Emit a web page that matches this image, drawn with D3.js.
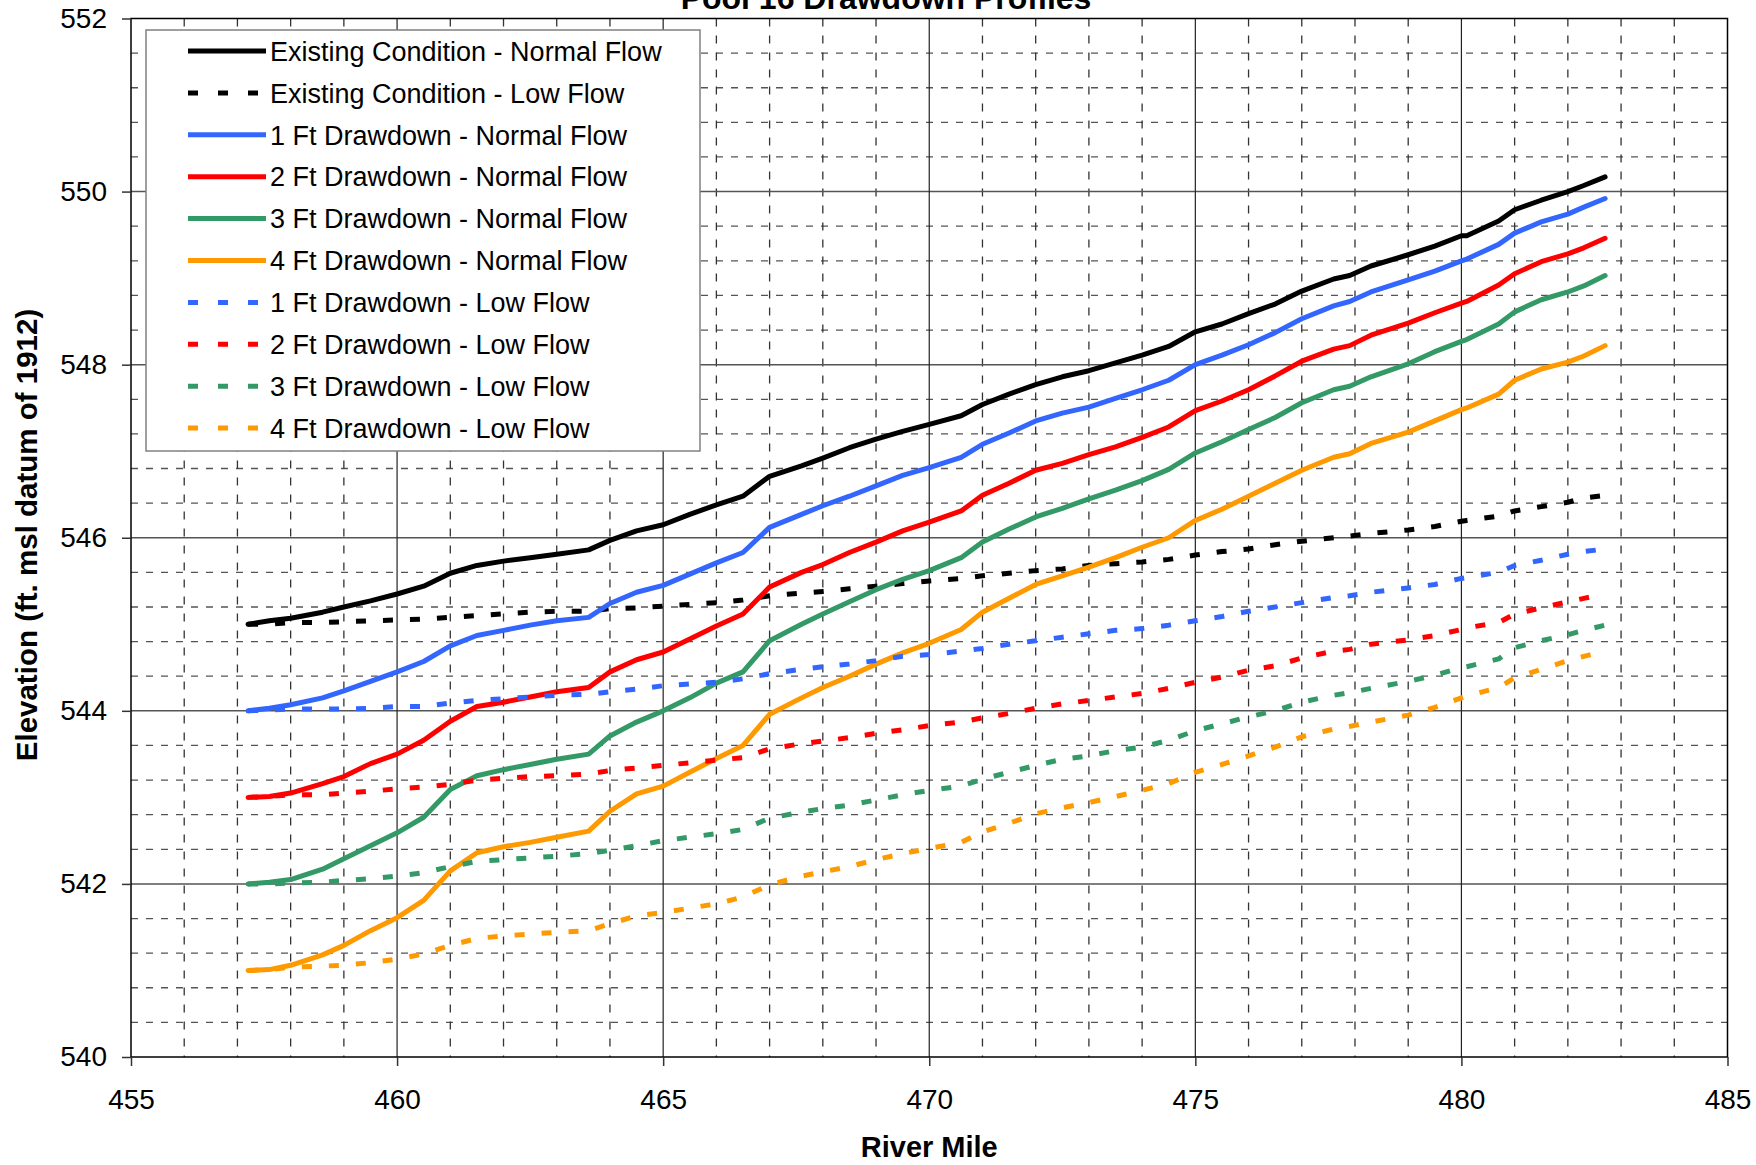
<!DOCTYPE html>
<html lang="en">
<head>
<meta charset="UTF-8">
<title>Pool 16 Drawdown Profiles</title>
<style>
    body {
        margin: 0;
        background: #fff;
    }
    svg {
        display: block;
        font-family: Arial, "Liberation Sans", sans-serif;
    }
</style>
</head>
<body>

<svg width="1756" height="1165"></svg>

<script src="https://d3js.org/d3.v7.min.js"></script>
<script>
    // river miles of the profile points
    const riverMile = [457.2, 457.6, 458.0, 458.6, 459.0, 459.5, 460.0, 460.5, 461.0, 461.5,
        462.0, 462.5, 463.0, 463.6, 464.0, 464.5, 465.0, 465.5, 466.0, 466.5,
        467.0, 467.6, 468.0, 468.5, 469.0, 469.5, 470.0, 470.6, 471.0, 471.5,
        472.0, 472.5, 473.0, 473.5, 474.0, 474.5, 475.0, 475.5, 476.0, 476.5,
        477.0, 477.6, 477.9, 478.3, 479.0, 479.5, 480.0, 480.1, 480.7, 481.0,
        481.5, 482.0, 482.3, 482.7];

    const existNormal = [545.00, 545.04, 545.07, 545.14, 545.20, 545.27, 545.35, 545.44, 545.59, 545.68,
        545.73, 545.77, 545.81, 545.86, 545.97, 546.08, 546.15, 546.27, 546.38, 546.48,
        546.71, 546.83, 546.92, 547.04, 547.14, 547.23, 547.31, 547.41, 547.54, 547.66,
        547.77, 547.86, 547.93, 548.02, 548.11, 548.21, 548.38, 548.47, 548.59, 548.70,
        548.85, 548.99, 549.03, 549.14, 549.27, 549.37, 549.49, 549.49, 549.66, 549.79,
        549.90, 550.00, 550.07, 550.17];

    const existLow = [545.00, 545.00, 545.02, 545.02, 545.03, 545.04, 545.05, 545.06, 545.08, 545.10,
        545.12, 545.14, 545.15, 545.15, 545.18, 545.19, 545.21, 545.23, 545.25, 545.28,
        545.33, 545.36, 545.38, 545.41, 545.44, 545.47, 545.50, 545.53, 545.56, 545.59,
        545.62, 545.64, 545.68, 545.70, 545.72, 545.75, 545.80, 545.84, 545.87, 545.92,
        545.96, 546.00, 546.02, 546.05, 546.09, 546.13, 546.19, 546.20, 546.25, 546.31,
        546.36, 546.41, 546.46, 546.49];

    const dd1Normal = [544.00, 544.03, 544.07, 544.15, 544.23, 544.34, 544.45, 544.57, 544.75, 544.87,
        544.93, 544.99, 545.04, 545.08, 545.24, 545.37, 545.45, 545.58, 545.71, 545.83,
        546.12, 546.27, 546.37, 546.48, 546.60, 546.72, 546.81, 546.93, 547.08, 547.21,
        547.35, 547.44, 547.51, 547.61, 547.71, 547.82, 548.00, 548.11, 548.23, 548.37,
        548.53, 548.68, 548.73, 548.84, 548.98, 549.08, 549.20, 549.22, 549.39, 549.52,
        549.65, 549.74, 549.82, 549.92];

    const dd2Normal = [543.00, 543.01, 543.05, 543.16, 543.24, 543.39, 543.50, 543.66, 543.88, 544.05,
        544.10, 544.16, 544.22, 544.27, 544.45, 544.59, 544.68, 544.83, 544.98, 545.12,
        545.43, 545.60, 545.69, 545.83, 545.95, 546.08, 546.18, 546.31, 546.49, 546.63,
        546.78, 546.86, 546.96, 547.05, 547.16, 547.28, 547.47, 547.58, 547.71, 547.87,
        548.04, 548.18, 548.22, 548.34, 548.48, 548.60, 548.71, 548.73, 548.92, 549.05,
        549.19, 549.28, 549.35, 549.46];

    const dd3Normal = [542.00, 542.02, 542.05, 542.17, 542.29, 542.44, 542.59, 542.77, 543.09, 543.25,
        543.32, 543.38, 543.44, 543.50, 543.71, 543.87, 544.00, 544.15, 544.32, 544.45,
        544.81, 545.00, 545.12, 545.26, 545.40, 545.52, 545.62, 545.77, 545.95, 546.10,
        546.24, 546.34, 546.45, 546.55, 546.66, 546.79, 546.98, 547.11, 547.25, 547.39,
        547.56, 547.71, 547.75, 547.86, 548.01, 548.15, 548.27, 548.29, 548.47, 548.61,
        548.75, 548.84, 548.91, 549.03];

    const dd4Normal = [541.00, 541.01, 541.06, 541.18, 541.29, 541.46, 541.61, 541.81, 542.15, 542.36,
        542.43, 542.48, 542.54, 542.61, 542.84, 543.04, 543.13, 543.29, 543.45, 543.60,
        543.96, 544.15, 544.27, 544.40, 544.54, 544.67, 544.78, 544.94, 545.14, 545.30,
        545.46, 545.56, 545.66, 545.77, 545.89, 546.00, 546.20, 546.33, 546.48, 546.63,
        546.78, 546.93, 546.97, 547.09, 547.22, 547.35, 547.48, 547.50, 547.66, 547.82,
        547.95, 548.03, 548.10, 548.22];

    const dd1Low = [544.00, 544.01, 544.02, 544.02, 544.02, 544.03, 544.05, 544.05, 544.09, 544.12,
        544.14, 544.16, 544.18, 544.19, 544.22, 544.25, 544.29, 544.31, 544.33, 544.37,
        544.43, 544.48, 544.51, 544.54, 544.58, 544.63, 544.65, 544.69, 544.72, 544.77,
        544.81, 544.85, 544.89, 544.93, 544.95, 544.99, 545.04, 545.09, 545.15, 545.20,
        545.25, 545.31, 545.33, 545.37, 545.42, 545.46, 545.53, 545.54, 545.60, 545.68,
        545.74, 545.81, 545.84, 545.87];

    const dd2Low = [543.00, 543.01, 543.03, 543.03, 543.05, 543.07, 543.10, 543.12, 543.15, 543.20,
        543.22, 543.24, 543.25, 543.27, 543.31, 543.34, 543.37, 543.40, 543.43, 543.46,
        543.56, 543.62, 543.65, 543.69, 543.74, 543.78, 543.83, 543.87, 543.92, 543.97,
        544.03, 544.08, 544.12, 544.16, 544.20, 544.26, 544.33, 544.39, 544.47, 544.52,
        544.61, 544.69, 544.71, 544.77, 544.82, 544.87, 544.94, 544.96, 545.02, 545.12,
        545.19, 545.26, 545.30, 545.35];

    const dd3Low = [542.00, 542.00, 542.01, 542.02, 542.04, 542.06, 542.09, 542.13, 542.20, 542.26,
        542.28, 542.30, 542.32, 542.35, 542.39, 542.44, 542.50, 542.54, 542.58, 542.63,
        542.76, 542.83, 542.87, 542.91, 542.97, 543.03, 543.08, 543.13, 543.21, 543.29,
        543.37, 543.44, 543.48, 543.54, 543.58, 543.66, 543.77, 543.85, 543.93, 544.00,
        544.10, 544.18, 544.21, 544.26, 544.34, 544.41, 544.50, 544.51, 544.60, 544.73,
        544.81, 544.88, 544.93, 544.99];

    const dd4Low = [541.00, 541.01, 541.04, 541.05, 541.06, 541.09, 541.13, 541.19, 541.29, 541.37,
        541.40, 541.42, 541.44, 541.46, 541.54, 541.63, 541.67, 541.72, 541.77, 541.85,
        541.99, 542.09, 542.14, 542.20, 542.28, 542.35, 542.41, 542.48, 542.60, 542.70,
        542.81, 542.88, 542.94, 543.01, 543.08, 543.16, 543.29, 543.38, 543.48, 543.58,
        543.70, 543.79, 543.82, 543.87, 543.95, 544.04, 544.15, 544.17, 544.27, 544.38,
        544.48, 544.58, 544.63, 544.69];

    const seriesNames = [
        "Existing Condition - Normal Flow",
        "Existing Condition - Low Flow",
        "1 Ft Drawdown - Normal Flow",
        "2 Ft Drawdown - Normal Flow",
        "3 Ft Drawdown - Normal Flow",
        "4 Ft Drawdown - Normal Flow",
        "1 Ft Drawdown - Low Flow",
        "2 Ft Drawdown - Low Flow",
        "3 Ft Drawdown - Low Flow",
        "4 Ft Drawdown - Low Flow"
    ];
    const seriesValues = [existNormal, existLow, dd1Normal, dd2Normal, dd3Normal, dd4Normal,
        dd1Low, dd2Low, dd3Low, dd4Low];
    const seriesColors = ["#000000", "#000000", "#3366ff", "#ff0000", "#339966", "#ff9900",
        "#3366ff", "#ff0000", "#339966", "#ff9900"];
    const seriesDashed = [false, true, false, false, false, false, true, true, true, true];

    const xTicks = [455, 460, 465, 470, 475, 480, 485];
    const yTicks = [540, 542, 544, 546, 548, 550, 552];

    const chartTitle = "Pool 16 Drawdown Profiles";
    const xTitle = "River Mile";
    const yTitle = "Elevation (ft. msl datum of 1912)";

    // ---- layout ----
    const plotLeft = 131, plotRight = 1727.5, plotTop = 18.5, plotBottom = 1057;

    const svg = d3.select("svg");

    const xScale = d3.scaleLinear().domain([455, 485]).range([plotLeft, plotRight]);
    const yScale = d3.scaleLinear().domain([540, 552]).range([plotBottom, plotTop]);

    // gridlines
    const grid = svg.append("g");
    const minorY = d3.range(1, 30).filter(i => i % 5 !== 0).map(i => 540 + i * 0.4);
    const majorY = yTicks.slice(1, -1);
    const minorX = d3.range(456, 485).filter(m => m % 5 !== 0);
    const majorX = xTicks.slice(1, -1);

    grid.selectAll(".hminor").data(minorY).enter().append("line")
        .attr("x1", plotLeft).attr("x2", plotRight)
        .attr("y1", d => yScale(d)).attr("y2", d => yScale(d))
        .style("stroke", "#555").style("stroke-width", 1.3)
        .style("stroke-dasharray", "7,8");

    grid.selectAll(".vminor").data(minorX).enter().append("line")
        .attr("x1", d => xScale(d)).attr("x2", d => xScale(d))
        .attr("y1", plotTop).attr("y2", plotBottom)
        .style("stroke", "#333").style("stroke-width", 1.3)
        .style("stroke-dasharray", "8,9");

    grid.selectAll(".hmajor").data(majorY).enter().append("line")
        .attr("x1", plotLeft).attr("x2", plotRight)
        .attr("y1", d => yScale(d)).attr("y2", d => yScale(d))
        .style("stroke", "#555").style("stroke-width", 1.5);

    grid.selectAll(".vmajor").data(majorX).enter().append("line")
        .attr("x1", d => xScale(d)).attr("x2", d => xScale(d))
        .attr("y1", plotTop).attr("y2", plotBottom)
        .style("stroke", "#222").style("stroke-width", 1.2);

    // plot frame
    svg.append("rect")
        .attr("x", plotLeft).attr("y", plotTop)
        .attr("width", plotRight - plotLeft).attr("height", plotBottom - plotTop)
        .style("fill", "none").style("stroke", "#000").style("stroke-width", 1.5);

    // axes
    const xAxis = d3.axisBottom(xScale).tickValues(xTicks).tickSize(9).tickPadding(23);
    const yAxis = d3.axisLeft(yScale).tickValues(yTicks).tickSize(9).tickPadding(15);

    const gx = svg.append("g")
        .attr("transform", `translate(0, ${plotBottom})`)
        .call(xAxis);
    const gy = svg.append("g")
        .attr("transform", `translate(${plotLeft}, 0)`)
        .call(yAxis);

    [gx, gy].forEach(g => {
        g.select(".domain").remove();
        g.selectAll(".tick line").style("stroke", "#333").style("stroke-width", 1.5);
        g.selectAll(".tick text")
            .style("font-family", "Arial, 'Liberation Sans', sans-serif")
            .style("font-size", "28px")
            .style("fill", "#000");
    });

    // series
    const line = d3.line()
        .x((d, i) => xScale(riverMile[i]))
        .y(d => yScale(d));

    seriesValues.forEach((vals, k) => {
        svg.append("path")
            .datum(vals)
            .attr("d", line)
            .style("fill", "none")
            .style("stroke", seriesColors[k])
            .style("stroke-width", 5)
            .style("stroke-linejoin", "round")
            .style("stroke-linecap", seriesDashed[k] ? "butt" : "round")
            .style("stroke-dasharray", seriesDashed[k] ? "10,17" : null);
    });

    // legend
    const legend = svg.append("g");
    legend.append("rect")
        .attr("x", 146).attr("y", 30)
        .attr("width", 554).attr("height", 421)
        .style("fill", "#fff").style("stroke", "#808080").style("stroke-width", 1.5);

    seriesNames.forEach((name, k) => {
        const ly = 51 + k * 41.9;
        legend.append("line")
            .attr("x1", 188).attr("x2", 266)
            .attr("y1", ly).attr("y2", ly)
            .style("stroke", seriesColors[k])
            .style("stroke-width", 5)
            .style("stroke-dasharray", seriesDashed[k] ? "10,20" : null);
        legend.append("text")
            .attr("x", 270).attr("y", ly)
            .attr("dy", "0.36em")
            .style("font-size", "27px")
            .text(name);
    });

    // titles
    svg.append("text")
        .attr("x", 886).attr("y", 9)
        .attr("text-anchor", "middle")
        .style("font-size", "32px").style("font-weight", "bold")
        .text(chartTitle);

    svg.append("text")
        .attr("x", (plotLeft + plotRight) / 2).attr("y", 1157)
        .attr("text-anchor", "middle")
        .style("font-size", "29px").style("font-weight", "bold")
        .text(xTitle);

    svg.append("text")
        .attr("transform", "translate(37, 535) rotate(-90)")
        .attr("text-anchor", "middle")
        .style("font-size", "29.5px").style("font-weight", "bold")
        .text(yTitle);
</script>
</body>
</html>
